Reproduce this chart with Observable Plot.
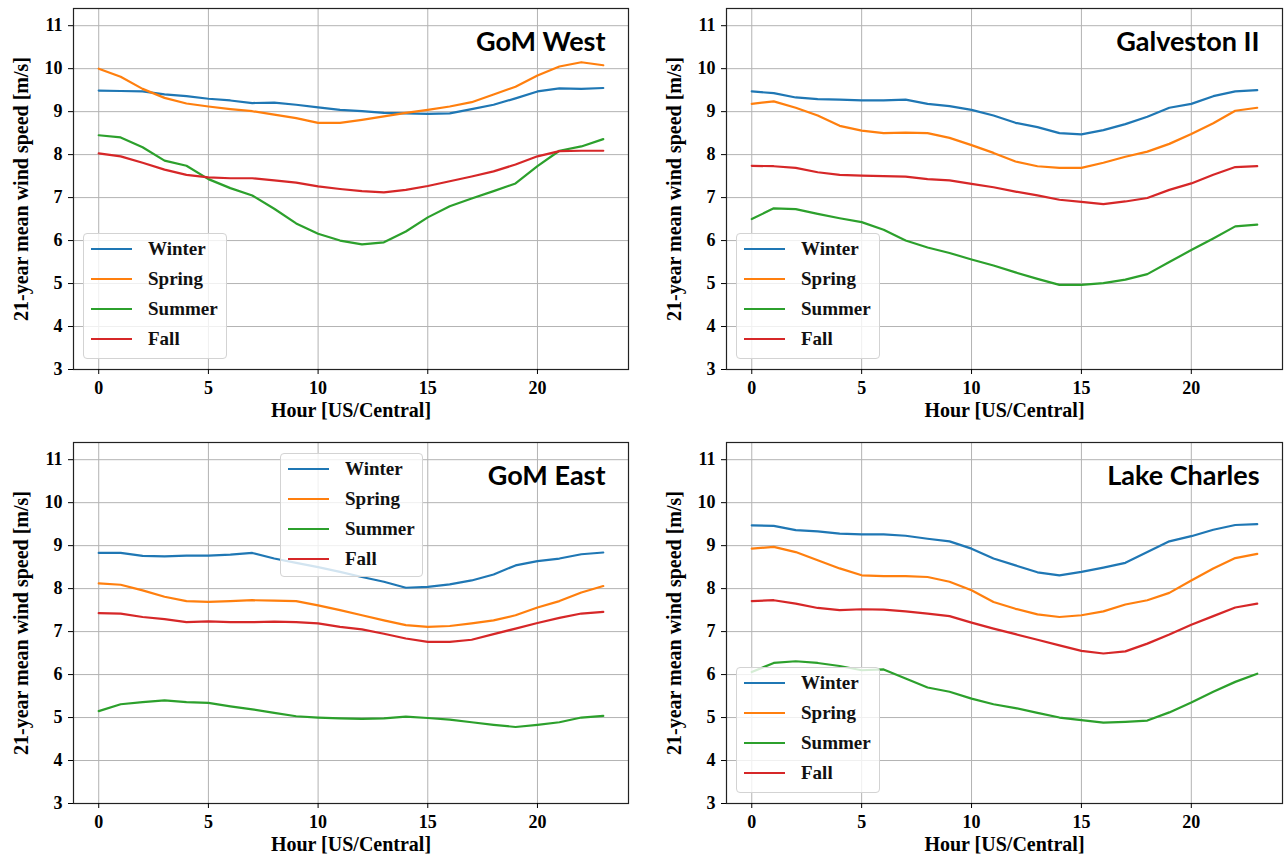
<!DOCTYPE html>
<html><head><meta charset="utf-8">
<script src="https://cdn.jsdelivr.net/npm/d3@7"></script>
<script src="https://cdn.jsdelivr.net/npm/@observablehq/plot@0.6"></script>
<style>
body{margin:0;background:#fff;}
#root{position:relative;width:1284px;height:863px;overflow:hidden;background:#fff}
.panel{position:absolute}
.legend{position:absolute;background:rgba(255,255,255,0.8);border:1px solid #d3d3d3;border-radius:4px;box-sizing:border-box;font-family:"Liberation Serif",serif;font-weight:bold;font-size:19px;color:#111}
.row{position:absolute;left:0;right:0;height:30px}
.sw{position:absolute;left:7px;top:14px;width:41px;height:2px}
.lab{position:absolute;left:64px;top:0;line-height:30px}
</style></head><body><div id="root"></div>
<script>
const hours = [0,1,2,3,4,5,6,7,8,9,10,11,12,13,14,15,16,17,18,19,20,21,22,23];
const seasons = ["Winter","Spring","Summer","Fall"];
const seasonColors = ["#1f77b4","#ff7f0e","#2ca02c","#d62728"];
const xTicks = [0,5,10,15,20];
const yTicks = [3,4,5,6,7,8,9,10,11];
const xLabel = "Hour [US/Central]";
const yLabel = "21-year mean wind speed [m/s]";

// GoM West
const gomWestWinter = [9.49,9.48,9.47,9.40,9.36,9.30,9.26,9.20,9.21,9.16,9.10,9.04,9.01,8.97,8.96,8.95,8.96,9.06,9.16,9.31,9.47,9.54,9.53,9.55];
const gomWestSpring = [10.00,9.81,9.53,9.32,9.19,9.12,9.06,9.01,8.93,8.85,8.74,8.74,8.81,8.89,8.97,9.04,9.12,9.22,9.40,9.58,9.84,10.05,10.15,10.08];
const gomWestSummer = [8.45,8.40,8.17,7.86,7.74,7.43,7.22,7.05,6.74,6.40,6.16,6.00,5.91,5.96,6.21,6.54,6.80,6.98,7.15,7.33,7.73,8.09,8.19,8.36];
const gomWestFall = [8.03,7.96,7.81,7.65,7.53,7.47,7.45,7.45,7.40,7.35,7.26,7.20,7.15,7.12,7.18,7.27,7.38,7.49,7.61,7.77,7.96,8.08,8.09,8.09];

// Galveston II
const galvestonWinter = [9.47,9.43,9.33,9.29,9.28,9.26,9.26,9.28,9.18,9.13,9.04,8.91,8.74,8.64,8.50,8.47,8.57,8.71,8.88,9.09,9.18,9.36,9.47,9.50];
const galvestonSpring = [9.18,9.24,9.09,8.91,8.67,8.56,8.50,8.51,8.50,8.39,8.22,8.04,7.84,7.73,7.69,7.69,7.81,7.95,8.07,8.25,8.48,8.73,9.02,9.09];
const galvestonSummer = [6.50,6.75,6.73,6.62,6.52,6.43,6.25,6.00,5.84,5.71,5.56,5.42,5.26,5.11,4.97,4.97,5.01,5.09,5.22,5.50,5.78,6.05,6.33,6.37];
const galvestonFall = [7.74,7.73,7.69,7.59,7.53,7.51,7.50,7.49,7.43,7.40,7.32,7.24,7.14,7.05,6.95,6.90,6.85,6.91,6.99,7.18,7.33,7.53,7.71,7.73];

// GoM East
const gomEastWinter = [8.83,8.83,8.76,8.75,8.77,8.77,8.79,8.83,8.70,8.60,8.50,8.39,8.27,8.16,8.02,8.04,8.10,8.19,8.33,8.54,8.64,8.70,8.80,8.84];
const gomEastSpring = [8.12,8.09,7.96,7.81,7.71,7.69,7.71,7.73,7.72,7.71,7.61,7.50,7.38,7.26,7.15,7.11,7.13,7.19,7.26,7.38,7.56,7.71,7.91,8.06];
const gomEastSummer = [5.15,5.31,5.36,5.40,5.36,5.34,5.26,5.19,5.11,5.03,5.00,4.98,4.97,4.98,5.02,4.99,4.95,4.89,4.83,4.78,4.83,4.89,5.00,5.04];
const gomEastFall = [7.43,7.42,7.34,7.29,7.22,7.24,7.22,7.22,7.23,7.22,7.19,7.11,7.05,6.95,6.84,6.76,6.76,6.81,6.94,7.07,7.20,7.32,7.42,7.46];

// Lake Charles
const lakeCharlesWinter = [9.47,9.46,9.36,9.33,9.28,9.26,9.26,9.23,9.16,9.10,8.93,8.70,8.54,8.38,8.31,8.39,8.49,8.60,8.85,9.10,9.22,9.37,9.48,9.50];
const lakeCharlesSpring = [8.93,8.97,8.85,8.66,8.47,8.31,8.29,8.29,8.27,8.16,7.96,7.69,7.53,7.40,7.34,7.38,7.47,7.63,7.73,7.90,8.19,8.47,8.71,8.81];
const lakeCharlesSummer = [6.06,6.27,6.31,6.27,6.20,6.10,6.12,5.91,5.70,5.60,5.44,5.31,5.22,5.11,5.00,4.94,4.88,4.90,4.93,5.12,5.35,5.60,5.83,6.02];
const lakeCharlesFall = [7.71,7.73,7.65,7.55,7.50,7.52,7.51,7.47,7.42,7.36,7.21,7.07,6.94,6.81,6.68,6.55,6.49,6.54,6.72,6.93,7.16,7.36,7.56,7.65];

const panels = [
  {title:"GoM West", series:[gomWestWinter,gomWestSpring,gomWestSummer,gomWestFall], left:0, top:0, width:642, marginRight:14, legend:{left:83, top:233, w:144, h:126}},
  {title:"Galveston II", series:[galvestonWinter,galvestonSpring,galvestonSummer,galvestonFall], left:653, top:0, width:631, marginRight:2, legend:{left:736, top:233, w:144, h:126}},
  {title:"GoM East", series:[gomEastWinter,gomEastSpring,gomEastSummer,gomEastFall], left:0, top:434, width:642, marginRight:14, legend:{left:280, top:453, w:143, h:124}},
  {title:"Lake Charles", series:[lakeCharlesWinter,lakeCharlesSpring,lakeCharlesSummer,lakeCharlesFall], left:653, top:434, width:631, marginRight:2, legend:{left:736, top:667, w:144, h:126}}
];

const root = document.getElementById("root");
const serif = "'Liberation Serif', 'Times New Roman', serif";

for (const p of panels) {
  const data = [];
  p.series.forEach((arr, si) => arr.forEach((v, i) => data.push({hour: hours[i], value: v, season: seasons[si]})));
  const chart = Plot.plot({
    width: p.width,
    height: 431,
    marginLeft: 73,
    marginRight: p.marginRight,
    marginTop: 8,
    marginBottom: 62,
    style: {fontFamily: serif, fontWeight: "bold", fontSize: "18px", color: "#000", background: "transparent", overflow: "visible"},
    x: {domain: [-1.15, 24.15]},
    y: {domain: [3, 11.4]},
    color: {domain: seasons, range: seasonColors},
    marks: [
      Plot.gridX(xTicks, {stroke: "#b3b3b3", strokeOpacity: 1, strokeWidth: 1}),
      Plot.gridY(yTicks, {stroke: "#b3b3b3", strokeOpacity: 1, strokeWidth: 1}),
      Plot.line(data, {x: "hour", y: "value", stroke: "season", z: "season", strokeWidth: 2.2}),
      Plot.frame({stroke: "#222", strokeWidth: 1.2}),
      Plot.axisX(xTicks, {tickSize: 5, tickPadding: 7, label: null, fontSize: 18}),
      Plot.axisY(yTicks, {tickSize: 5, tickPadding: 6, label: null, fontSize: 18}),
      Plot.text([xLabel], {frameAnchor: "bottom", dy: 41, textAnchor: "middle", lineAnchor: "middle", fontSize: 20, fontWeight: "bold", fill: "#000"}),
      Plot.text([yLabel], {frameAnchor: "left", dx: -52, rotate: -90, textAnchor: "middle", lineAnchor: "middle", fontSize: 20, fontWeight: "bold", fill: "#000"}),
      Plot.text([p.title], {frameAnchor: "top-right", dx: -23, dy: 42, textAnchor: "end", lineAnchor: "bottom", fontFamily: "Lato", fontWeight: "bold", fontSize: 27, fill: "#000"})
    ]
  });
  const wrap = document.createElement("div");
  wrap.className = "panel";
  wrap.style.left = p.left + "px";
  wrap.style.top = p.top + "px";
  wrap.appendChild(chart);
  root.appendChild(wrap);

  const lg = document.createElement("div");
  lg.className = "legend";
  lg.style.left = p.legend.left + "px";
  lg.style.top = p.legend.top + "px";
  lg.style.width = p.legend.w + "px";
  lg.style.height = p.legend.h + "px";
  seasons.forEach((s, i) => {
    const row = document.createElement("div");
    row.className = "row";
    row.style.top = (i * 30) + "px";
    const sw = document.createElement("div");
    sw.className = "sw";
    sw.style.background = seasonColors[i];
    const lab = document.createElement("div");
    lab.className = "lab";
    lab.textContent = s;
    row.appendChild(sw);
    row.appendChild(lab);
    lg.appendChild(row);
  });
  root.appendChild(lg);
}
</script></body></html>
